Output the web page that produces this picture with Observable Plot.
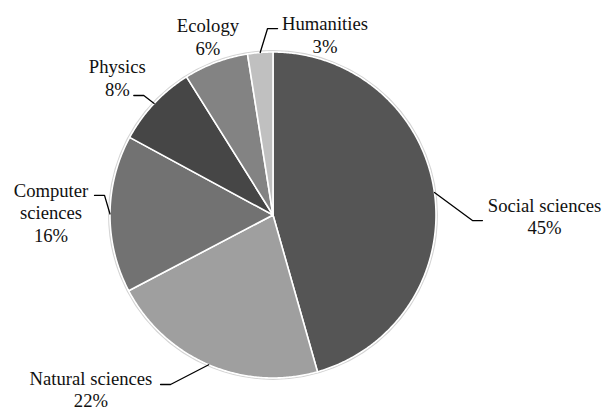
<!DOCTYPE html>
<html>
<head>
<meta charset="utf-8">
<script src="https://cdn.jsdelivr.net/npm/d3@7"></script>
<script src="https://cdn.jsdelivr.net/npm/@observablehq/plot@0.6"></script>
<style>
  html, body { margin: 0; padding: 0; background: #fff; }
  #chart svg { display: block; }
  #chart svg text { font-family: "Liberation Serif", "Times New Roman", serif !important; }
</style>
</head>
<body>
<div id="chart"></div>
<script>
// ---- data ----
const categories = ["Social sciences", "Natural sciences", "Computer sciences", "Physics", "Ecology", "Humanities"];
const shares = [45.6, 21.7, 15.6, 8.2, 6.4, 2.5];
const pctLabels = ["45%", "22%", "16%", "8%", "6%", "3%"];
const colors = ["#555555", "#9f9f9f", "#727272", "#464646", "#838383", "#c0c0c0"];

// ---- label layout (in pie-radius units, y up) ----
const labelPos = [
  {tx: 1.666, ty: -0.006, ex: 1.285, ey: -0.034, wrap: false, lead: true},
  {tx: -1.117, ty: -1.068, ex: -0.690, ey: -1.040, wrap: false, lead: true},
  {tx: -1.362, ty: 0.018, ex: -1.095, ey: 0.120, wrap: true, lead: true},
  {tx: -0.955, ty: 0.844, ex: -0.854, ey: 0.733, wrap: false, lead: true},
  {tx: -0.399, ty: 1.097, ex: 0, ey: 0, wrap: false, lead: false},
  {tx: 0.319, ty: 1.109, ex: 0.028, ey: 1.144, wrap: false, lead: true}
];

// ---- build slices ----
const arcs = d3.pie().sort(null).value((d, i) => shares[i])(categories);
const slicePts = [];
arcs.forEach((a, i) => {
  const name = categories[i];
  slicePts.push({name, x: 0, y: 0});
  const n = Math.max(4, Math.ceil((a.endAngle - a.startAngle) / (Math.PI / 360)));
  for (let k = 0; k <= n; k++) {
    const t = a.startAngle + (a.endAngle - a.startAngle) * k / n;
    slicePts.push({name, x: Math.sin(t), y: Math.cos(t)});
  }
  slicePts.push({name, x: 0, y: 0});
});

// leader lines: pie edge at mid-angle -> elbow -> end near label
const hseg = 10 / 163;
const leaders = [];
arcs.forEach((a, i) => {
  const L = labelPos[i];
  if (!L.lead) return;
  const m = (a.startAngle + a.endAngle) / 2;
  const side = L.ex < L.tx ? 1 : -1;
  const pts = [
    {x: Math.sin(m), y: Math.cos(m)},
    {x: L.ex - side * hseg, y: L.ey},
    {x: L.ex, y: L.ey}
  ];
  pts.forEach(p => leaders.push({name: categories[i], ...p}));
});

const labels = categories.map((c, i) => ({
  text: (labelPos[i].wrap ? c.replace(" ", "\n") : c) + "\n" + pctLabels[i],
  x: labelPos[i].tx,
  y: labelPos[i].ty
}));

const R = 163, cx = 272.5, cy = 214.5, W = 604, H = 410;

const chart = Plot.plot({
  width: W,
  height: H,
  marginLeft: cx - R,
  marginRight: W - (cx + R),
  marginTop: cy - R,
  marginBottom: H - (cy + R),
  x: {domain: [-1, 1], axis: null},
  y: {domain: [-1, 1], axis: null},
  color: {domain: categories, range: colors},
  style: {background: "#fff", overflow: "visible", fontFamily: "'Liberation Serif', 'Times New Roman', serif"},
  marks: [
    Plot.dot([{x: 0, y: 0}], {x: "x", y: "y", r: R + 1.2, stroke: "#d4d4d4", strokeWidth: 1.5, fill: "none"}),
    Plot.line(slicePts, {x: "x", y: "y", z: "name", fill: "name", stroke: "#ffffff", strokeWidth: 1.6, strokeLinejoin: "round", curve: "linear"}),
    Plot.line(leaders, {x: "x", y: "y", z: "name", stroke: "#000", strokeWidth: 1.3, curve: "linear"}),
    Plot.text(labels, {x: "x", y: "y", text: "text", textAnchor: "middle", lineAnchor: "middle", lineHeight: 1.2,
      fontSize: 18.67, fill: "#111"})
  ]
});
document.getElementById("chart").appendChild(chart);
</script>
</body>
</html>
